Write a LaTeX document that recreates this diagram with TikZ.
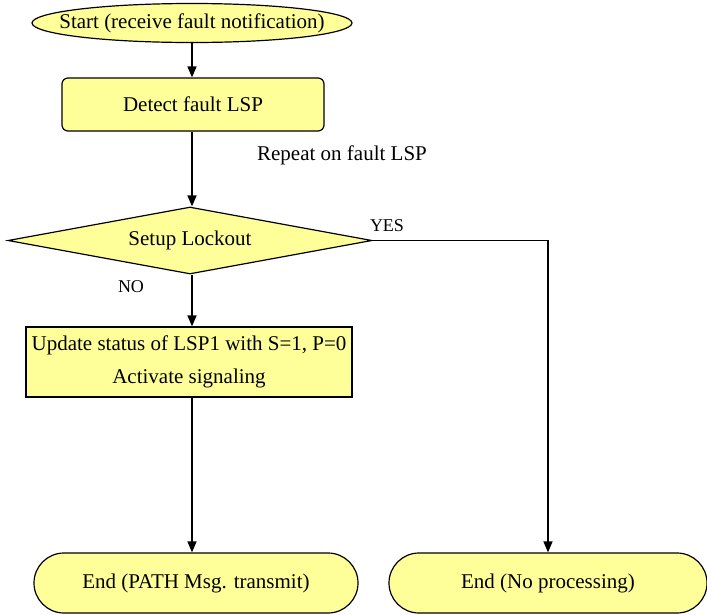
\documentclass[tikz,border=0pt]{standalone}
\usepackage{fontspec}
\setmainfont{Liberation Serif}
\usetikzlibrary{shapes.geometric,shapes.misc,arrows.meta}
\definecolor{boxfill}{RGB}{255,255,153}
\newcommand{\fixedtext}[1]{\makebox[0pt][c]{#1}}
\tikzset{
  box/.style={draw=black, line width=1.2pt, fill=boxfill, inner sep=0pt,
    font=\fontsize{21}{25}\selectfont},
  startbox/.style={box, ellipse},
  stepbox/.style={box, rectangle},
  decision/.style={box, diamond},
  endbox/.style={box, rounded rectangle},
  flow/.style={line width=1.5pt, -{Triangle[length=11pt,width=9pt]}},
  lbl/.style={inner sep=0pt},
}
\begin{document}
\begin{tikzpicture}[x=1pt,y=-1pt]
  \useasboundingbox (0,0) rectangle (707,614);

  \node[startbox, minimum width=320pt, minimum height=39pt] (start) at (192,23)
    {\fixedtext{Start (receive fault notification)}};
  \node[stepbox, rounded corners=6pt, minimum width=262pt, minimum height=53pt] (detect) at (193,104.5)
    {Detect fault LSP};
  \node[decision, minimum width=364pt, minimum height=67pt] (lock) at (190,240.5)
    {\fixedtext{Setup Lockout}};
  \node[stepbox, minimum width=326pt, minimum height=70pt, align=center] (update) at (189,362)
    {Update status of LSP1 with S=1, P=0\\[8pt]Activate signaling};
  \node[endbox, minimum width=324pt, minimum height=60pt] (endpath) at (196,583)
    {End (PATH Msg. transmit)};
  \node[endbox, minimum width=318pt, minimum height=60pt] (endnone) at (548,583)
    {End (No processing)};

  \node[lbl, font=\fontsize{21}{25}\selectfont] (repeat) at (342,155) {Repeat on fault LSP};
  \node[lbl, font=\fontsize{18}{21}\selectfont] (yes) at (387,226) {YES};
  \node[lbl, font=\fontsize{18}{21}\selectfont] (no) at (131,287) {NO};

  \coordinate (col) at (192,0);
  \draw[flow] (start.south -| col) -- (detect.north -| col);
  \draw[flow] (detect.south -| col) -- (lock.north -| col);
  \draw[flow] (lock.south -| col) -- (update.north -| col);
  \draw[flow] (update.south -| col) -- (endpath.north -| col);
  \draw[flow] (lock.east) -- (lock.east -| endnone.north) -- (endnone.north);
\end{tikzpicture}
\end{document}
